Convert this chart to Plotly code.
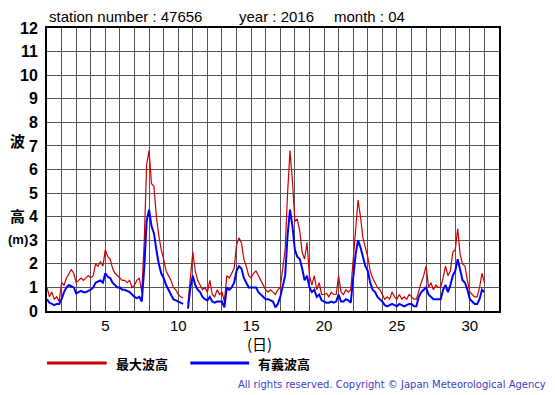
import plotly.graph_objects as go

# Sampling: every 4 hours from day 1 00:00 to day 31 00:00
steps_per_day = 6
start_day = 1

max_wave = [
    1.0, 0.6, 0.8, 0.5, 0.6, 0.4,      # 1
    1.2, 1.1, 1.4, 1.6, 1.75, 1.6,     # 2
    1.2, 1.3, 1.4, 1.3, 1.4, 1.5,      # 3
    1.4, 1.5, 2.0, 1.9, 2.1, 1.9,      # 4
    2.6, 2.3, 2.2, 1.8, 1.6, 1.5,      # 5
    1.4, 1.3, 1.3, 1.2, 1.3, 1.0,      # 6
    1.1, 1.3, 1.4, 0.8, 2.9, 6.2,      # 7
    6.8, 5.4, 5.3, 4.0, 3.2, 2.6,      # 8
    2.2, 1.7, 1.5, 1.3, 1.0, 0.9,      # 9
    0.7, 0.6, 0.55, None, 0.3, 1.6,    # 10
    2.5, 1.7, 1.3, 1.1, 0.9, 1.0,      # 11
    0.8, 1.3, 0.7, 0.6, 0.9, 0.7,      # 12
    0.8, 0.4, 1.5, 1.4, 1.6, 1.8,      # 13
    2.8, 3.1, 2.9, 2.2, 1.9, 1.5,      # 14
    1.4, 1.6, 1.7, 1.5, 1.3, 1.1,      # 15
    0.9, 0.8, 0.9, 0.8, 0.7, 0.9,      # 16
    1.0, 1.8, 2.6, 5.0, 6.8, 5.5,      # 17
    3.8, 3.9, 3.4, 2.5, 2.2, 2.9,      # 18
    1.5, 1.1, 1.5, 0.9, 1.2, 0.7,      # 19
    0.7, 0.75, 0.6, 0.8, 0.7, 0.7,     # 20
    1.5, 0.8, 0.7, 0.9, 0.8, 0.9,      # 21
    2.2, 3.8, 4.7, 4.0, 3.1, 2.7,      # 22
    2.3, 1.7, 1.4, 1.2, 1.0, 0.9,      # 23
    0.7, 0.5, 0.6, 0.5, 0.8, 0.6,      # 24
    0.5, 0.7, 0.5, 0.6, 0.5, 0.7,      # 25
    0.6, 0.5, 0.5, 0.9, 1.2, 1.5,      # 26
    1.9, 1.0, 1.2, 0.9, 1.1, 1.0,      # 27
    1.0, 1.4, 1.9, 1.5, 1.7, 2.5,      # 28
    2.6, 3.5, 2.4, 2.0, 1.9, 1.3,      # 29
    0.8, 0.7, 0.6, 0.6, 1.0, 1.6,      # 30
    1.2,                               # 31 00:00
]

sig_wave = [
    0.5, 0.35, 0.3, 0.25, 0.3, 0.3,    # 1
    0.5, 0.8, 1.0, 1.1, 1.05, 1.0,     # 2
    0.75, 0.8, 0.85, 0.8, 0.8, 0.85,   # 3
    0.9, 1.0, 1.2, 1.25, 1.3, 1.2,     # 4
    1.6, 1.45, 1.4, 1.2, 1.1, 1.0,     # 5
    1.0, 0.9, 0.9, 0.85, 0.8, 0.7,     # 6
    0.6, 0.55, 0.6, 0.4, 1.8, 3.8,     # 7
    4.3, 3.6, 3.3, 2.6, 2.0, 1.6,      # 8
    1.4, 1.1, 0.9, 0.7, 0.5, 0.45,     # 9
    0.4, 0.35, 0.3, None, 0.1, 1.0,    # 10
    1.5, 1.1, 0.9, 0.8, 0.6, 0.5,      # 11
    0.45, 0.6, 0.4, 0.35, 0.4, 0.4,    # 12
    0.4, 0.15, 1.0, 0.9, 1.0, 1.2,     # 13
    1.7, 1.9, 1.8, 1.4, 1.2, 1.0,      # 14
    1.0, 1.0, 1.0, 0.8, 0.7, 0.6,      # 15
    0.5, 0.5, 0.45, 0.4, 0.15, 0.3,    # 16
    0.6, 1.0, 1.5, 3.2, 4.3, 3.6,      # 17
    2.6, 2.3, 2.2, 1.8, 1.3, 1.5,      # 18
    1.0, 0.8, 0.9, 0.6, 0.7, 0.45,     # 19
    0.4, 0.35, 0.35, 0.4, 0.35, 0.4,   # 20
    0.7, 0.4, 0.4, 0.5, 0.45, 0.35,    # 21
    1.4, 2.4, 3.0, 2.7, 2.3, 1.9,      # 22
    1.7, 1.2, 0.9, 0.8, 0.6, 0.5,      # 23
    0.4, 0.25, 0.2, 0.25, 0.3, 0.25,   # 24
    0.2, 0.3, 0.25, 0.2, 0.25, 0.3,    # 25
    0.3, 0.2, 0.2, 0.6, 0.8, 0.9,      # 26
    1.0, 0.7, 0.6, 0.5, 0.5, 0.5,      # 27
    0.5, 0.9, 1.1, 0.8, 1.1, 1.5,      # 28
    1.7, 2.2, 1.7, 1.3, 1.2, 0.9,      # 29
    0.5, 0.4, 0.3, 0.3, 0.5, 0.9,      # 30
    0.8,                               # 31 00:00
]

days = [start_day + i / steps_per_day for i in range(len(max_wave))]

x_tick_vals = list(range(1, 33))
x_tick_text = [str(d) if d % 5 == 0 else "" for d in x_tick_vals]
y_tick_vals = list(range(0, 13))

RED = "#cc0000"
BLUE = "#0000ff"
FONT = "Liberation Sans, Arial, sans-serif"
CJK = "Noto Sans CJK JP, sans-serif"

fig = go.Figure()
fig.add_trace(go.Scatter(x=days, y=max_wave, mode="lines", name="最大波高",
                         line=dict(color=RED, width=1.2), connectgaps=False))
fig.add_trace(go.Scatter(x=days, y=sig_wave, mode="lines", name="有義波高",
                         line=dict(color=BLUE, width=2), connectgaps=False))

# The page body has an 8px margin; work in page pixels and offset.
OFF = 8
PW, PH = 555, 395
L, R, T, B = 45, 56, 28, 84          # plot box in page pixels
W, H = PW - OFF, PH - OFF
pw, ph = PW - L - R, PH - T - B

def px(x):
    return (x - L) / pw

def py(y):
    return (PH - B - y) / ph

fig.update_layout(
    width=W, height=H,
    margin=dict(l=L - OFF, r=R, t=T - OFF, b=B, pad=0),
    paper_bgcolor="white", plot_bgcolor="white",
    showlegend=False,
    font=dict(family=FONT, color="black"),
    xaxis=dict(range=[1, 32], tickvals=x_tick_vals, ticktext=x_tick_text,
               showgrid=True, gridcolor="#555555", gridwidth=1,
               showline=True, linecolor="black", linewidth=2, mirror=True,
               ticks="", tickfont=dict(size=15, family=FONT), zeroline=False),
    yaxis=dict(range=[0, 12], tickvals=y_tick_vals,
               showgrid=True, gridcolor="#555555", gridwidth=1,
               showline=True, linecolor="black", linewidth=2, mirror=True,
               ticks="", ticklabelstandoff=4,
               tickfont=dict(size=16, family=FONT, weight="bold"), zeroline=False),
)

ann = []
def add_text(x, y, text, size=15, family=FONT, color="black", xanchor="left", bold=False):
    ann.append(dict(x=px(x), y=py(y), xref="paper", yref="paper", text=text,
                    showarrow=False, xanchor=xanchor, yanchor="middle", borderpad=0,
                    font=dict(size=size, family=family, color=color,
                              weight="bold" if bold else "normal")))

add_text(46, 17, "station number : 47656", size=15)
add_text(237, 17, "year : 2016", size=15)
add_text(332, 17, "month : 04", size=15)
add_text(15, 140, "波", size=15, family=CJK, xanchor="center", bold=True)
add_text(15, 215, "高", size=15, family=CJK, xanchor="center", bold=True)
add_text(5, 239, "(m)", size=13, family=FONT, xanchor="left", bold=True)
add_text(258, 343, "(日)", size=15, family=CJK, xanchor="center")
add_text(113, 363, "最大波高", size=13, family=CJK, bold=True)
add_text(256, 363, "有義波高", size=13, family=CJK, bold=True)
add_text(547, 384, "All rights reserved. Copyright © Japan Meteorological Agency",
         size=10, family="DejaVu Sans, sans-serif", color="#3c3cc8", xanchor="right")
fig.update_layout(annotations=ann)

fig.add_shape(type="line", xref="paper", yref="paper",
              x0=px(45), x1=px(105), y0=py(363), y1=py(363),
              line=dict(color=RED, width=3))
fig.add_shape(type="line", xref="paper", yref="paper",
              x0=px(189), x1=px(248), y0=py(363), y1=py(363),
              line=dict(color=BLUE, width=3))

fig.write_html("out.html")
